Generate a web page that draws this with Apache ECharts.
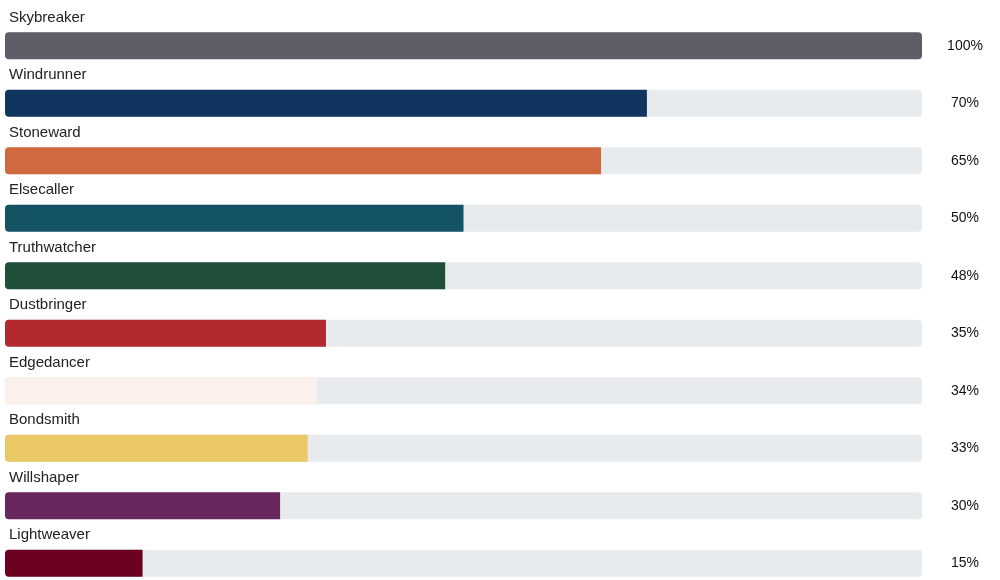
<!DOCTYPE html>
<html lang="en">
<head>
<meta charset="UTF-8">
<title>Orders</title>
<script src="https://cdn.jsdelivr.net/npm/echarts@6/dist/echarts.min.js"></script>
<style>html,body{margin:0;padding:0;background:#fff;}</style>
</head>
<body>
<div id="main" style="width:1000px;height:580px;"></div>
<script>
var names = ['Skybreaker', 'Windrunner', 'Stoneward', 'Elsecaller', 'Truthwatcher',
    'Dustbringer', 'Edgedancer', 'Bondsmith', 'Willshaper', 'Lightweaver'];
var values = [100, 70, 65, 50, 48, 35, 34, 33, 30, 15];
var colors = ['#5f5d68', '#10355f', '#d0693f', '#135364', '#1f4e3a',
    '#b22a2e', '#fbf0ec', '#e9c865', '#67275d', '#6b0020'];

var myChart = echarts.init(document.getElementById('main'));

var barData = values.map(function (v, i) {
    return {
        value: v,
        itemStyle: {
            color: colors[i],
            borderRadius: v >= 100 ? 4 : [4, 0, 0, 4]
        }
    };
});

var option = {
    animation: false,
    textStyle: { fontFamily: 'Liberation Sans, Arial, sans-serif' },
    grid: { left: 5, right: 78, top: 17, height: 575, outerBoundsMode: 'none', containLabel: false },
    xAxis: {
        type: 'value', min: 0, max: 100,
        show: false
    },
    yAxis: [{
        type: 'category',
        data: names,
        inverse: true,
        axisLine: { show: false },
        axisTick: { show: false },
        axisLabel: { show: false }
    }, {
        type: 'category',
        data: values.map(function (v) { return v + '%'; }),
        inverse: true,
        position: 'right',
        axisLine: { show: false },
        axisTick: { show: false },
        axisLabel: {
            margin: 43,
            align: 'center',
            color: '#111',
            fontSize: 14
        }
    }],
    series: [{
        type: 'bar',
        data: barData,
        barWidth: 27,
        showBackground: true,
        backgroundStyle: { color: '#e8ebee', borderRadius: 4 },
        label: {
            show: true,
            formatter: '{b}',
            position: [4, -7],
            align: 'left',
            verticalAlign: 'bottom',
            color: '#222',
            fontSize: 15
        }
    }]
};
myChart.setOption(option);
</script>
</body>
</html>
